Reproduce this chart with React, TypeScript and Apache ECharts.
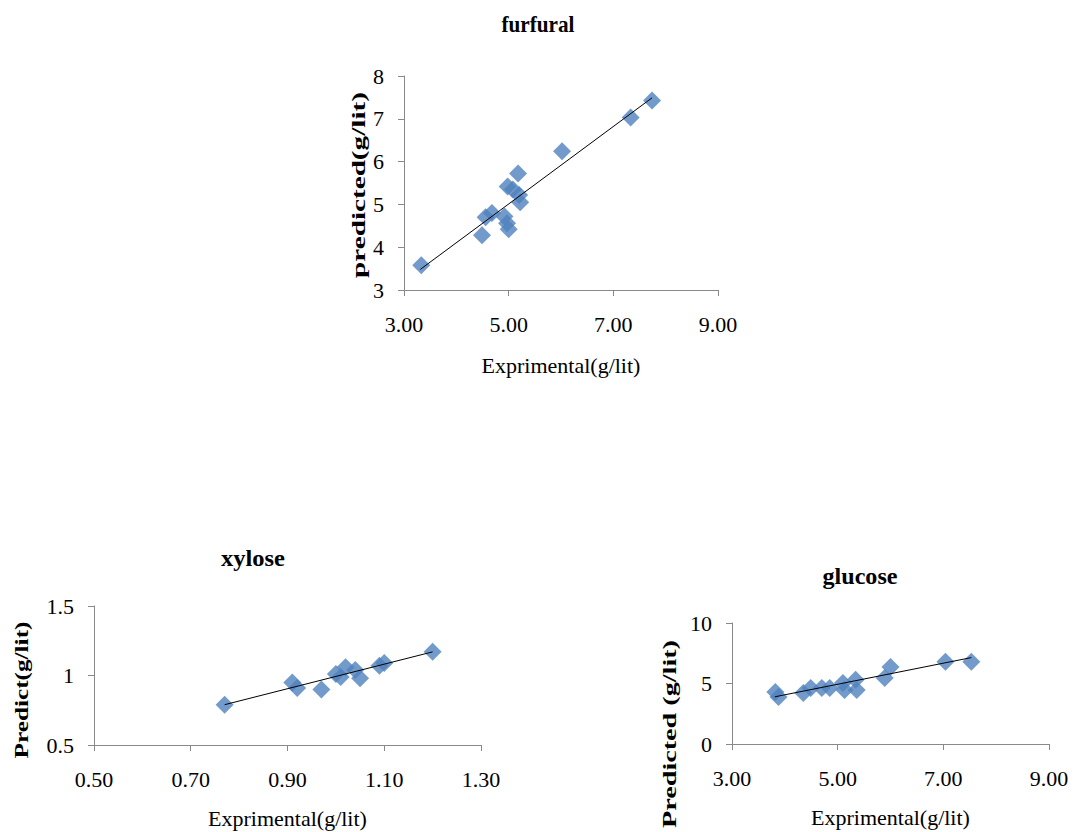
import React, { useEffect, useRef } from "react";
import * as echarts from "echarts";

// furfural
const furfuralExp = [3.33, 4.49, 4.56, 4.68, 4.92, 4.97, 5.0, 4.98, 5.08, 5.18, 5.2, 5.22, 6.02, 7.33, 7.74];
const furfuralPred = [3.58, 4.28, 4.7, 4.8, 4.72, 4.56, 4.42, 5.42, 5.35, 5.72, 5.22, 5.05, 6.24, 7.03, 7.43];
const furfuralTrendX = [3.31, 7.74];
const furfuralTrendY = [3.48, 7.49];

// xylose
const xyloseExp = [0.77, 0.91, 0.92, 0.97, 1.0, 1.01, 1.02, 1.04, 1.05, 1.09, 1.1, 1.2];
const xylosePred = [0.79, 0.95, 0.91, 0.9, 1.01, 0.99, 1.06, 1.04, 0.98, 1.07, 1.09, 1.17];
const xyloseTrendX = [0.77, 1.2];
const xyloseTrendY = [0.79, 1.17];

// glucose
const glucoseExp = [3.82, 3.88, 4.35, 4.49, 4.7, 4.85, 5.1, 5.13, 5.34, 5.36, 5.89, 6.0, 7.04, 7.53];
const glucosePred = [4.29, 3.88, 4.21, 4.63, 4.63, 4.63, 5.04, 4.46, 5.3, 4.46, 5.46, 6.37, 6.79, 6.79];
const glucoseTrendX = [3.81, 7.53];
const glucoseTrendY = [3.9, 7.14];

const titles = ["furfural", "xylose", "glucose"];
const xTitle = "Exprimental(g/lit)";
const yTitles = ["predicted(g/lit)", "Predict(g/lit)", "Predicted (g/lit)"];

const FONT = "'Liberation Serif', 'Times New Roman', serif";
const BLUE = "#4F81BD";
const AXIS = "#898989";

const zip = (a: number[], b: number[]) => a.map((v, i) => [v, b[i]]);

function measure(text: string, font: string) {
  const c = document.createElement("canvas").getContext("2d");
  if (!c) return text.length * 10;
  c.font = font;
  return c.measureText(text).width;
}

export default function App() {
  const ref = useRef<HTMLDivElement>(null);
  useEffect(() => {
    document.body.style.margin = "0";
    const chart = echarts.init(ref.current!, null, { renderer: "svg" });
    const grids = [
      { left: 404, top: 76, width: 314, height: 214 },
      { left: 94, top: 606, width: 387, height: 139 },
      { left: 732, top: 623, width: 317, height: 121 },
    ];
    const xCfg = [
      { min: 3, max: 9, interval: 2, nameGap: 64 },
      { min: 0.5, max: 1.3, interval: 0.2, nameGap: 62 },
      { min: 3, max: 9, interval: 2, nameGap: 62 },
    ];
    const yCfg = [
      { min: 3, max: 8, interval: 1, dec: 0 },
      { min: 0.5, max: 1.5, interval: 0.5, dec: -1 },
      { min: 0, max: 10, interval: 5, dec: 0 },
    ];
    const axisCommon = {
      axisLine: { show: true, lineStyle: { color: AXIS, width: 1 } },
      axisTick: { show: true, length: 6, lineStyle: { color: AXIS } },
      splitLine: { show: false },
    };
    const xAxes = xCfg.map((c, i) => ({
      type: "value",
      gridIndex: i,
      min: c.min,
      max: c.max,
      interval: c.interval,
      name: xTitle,
      nameLocation: "middle",
      nameGap: c.nameGap,
      nameTextStyle: { fontFamily: FONT, fontSize: 22, color: "#000" },
      ...axisCommon,
      axisLabel: {
        fontFamily: FONT,
        fontSize: 22,
        color: "#000",
        margin: 23,
        formatter: (v: number) => v.toFixed(2),
      },
    }));
    const yAxes = yCfg.map((c, i) => ({
      type: "value",
      gridIndex: i,
      min: c.min,
      max: c.max,
      interval: c.interval,
      ...axisCommon,
      axisLabel: {
        fontFamily: FONT,
        fontSize: 22,
        color: "#000",
        margin: 20,
        formatter: (v: number) => (c.dec < 0 ? String(v) : v.toFixed(c.dec)),
      },
    }));
    const datasets = [
      [furfuralExp, furfuralPred, furfuralTrendX, furfuralTrendY],
      [xyloseExp, xylosePred, xyloseTrendX, xyloseTrendY],
      [glucoseExp, glucosePred, glucoseTrendX, glucoseTrendY],
    ];
    const series: any[] = [];
    datasets.forEach((d, i) => {
      series.push({
        type: "scatter",
        xAxisIndex: i,
        yAxisIndex: i,
        symbol: "diamond",
        symbolSize: 18,
        itemStyle: { color: BLUE },
        data: zip(d[0], d[1]),
        z: 2,
      });
      series.push({
        type: "line",
        xAxisIndex: i,
        yAxisIndex: i,
        showSymbol: false,
        symbol: "none",
        lineStyle: { color: "#000", width: 1 },
        data: zip(d[2], d[3]),
        z: 3,
      });
    });

    // titles (stretched text like the reference)
    const titleFont = `bold 24px ${FONT}`;
    const titlePos = [
      { x: 538, y: 24, w: 73 },
      { x: 253, y: 558, w: 64 },
      { x: 860, y: 576, w: 75 },
    ];
    const yTitleFont = `bold 19px ${FONT}`;
    const yTitlePos = [
      { x: 358, y: 185, len: 186 },
      { x: 22, y: 690, len: 137 },
      { x: 670, y: 734, len: 188 },
    ];
    const graphic: any[] = [];
    titles.forEach((t, i) => {
      const p = titlePos[i];
      graphic.push({
        type: "text",
        x: p.x,
        y: p.y,
        scaleX: p.w / measure(t, titleFont),
        style: {
          text: t,
          font: titleFont,
          fill: "#000",
          textAlign: "center",
          textVerticalAlign: "middle",
        },
      });
    });
    yTitles.forEach((t, i) => {
      const p = yTitlePos[i];
      graphic.push({
        type: "text",
        x: p.x,
        y: p.y,
        rotation: Math.PI / 2,
        scaleX: p.len / measure(t, yTitleFont),
        style: {
          text: t,
          font: yTitleFont,
          fill: "#000",
          textAlign: "center",
          textVerticalAlign: "middle",
        },
      });
    });

    chart.setOption({
      animation: false,
      backgroundColor: "#fff",
      grid: grids,
      xAxis: xAxes,
      yAxis: yAxes,
      series,
      graphic,
    });
    return () => chart.dispose();
  }, []);
  return <div ref={ref} style={{ width: 1075, height: 832 }} />;
}
